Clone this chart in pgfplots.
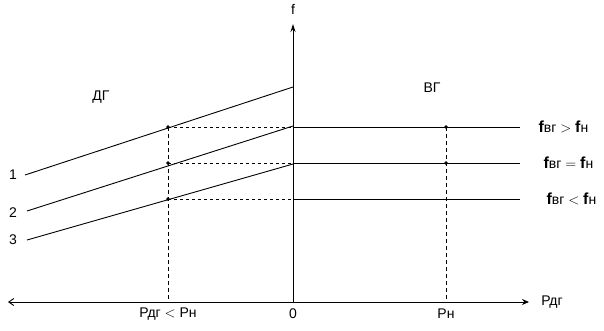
\documentclass[border=0pt]{standalone}
\usepackage{pgfplots}
\pgfplotsset{compat=1.18}
\usepackage{fontspec}
\setmainfont{Liberation Sans}
\usetikzlibrary{arrows.meta}
\begin{document}
\begin{tikzpicture}
\begin{axis}[
  scale only axis, width=604pt, height=330pt,
  xmin=0, xmax=604, ymin=0, ymax=330, y dir=reverse,
  hide axis, clip=false,
  font=\fontsize{14}{16}\selectfont,
]
% axes
\addplot [black, no marks, line width=0.9pt, {Straight Barb[length=5pt,width=7pt]}-{Stealth[length=7pt,width=6pt]}] coordinates {(8,302) (529,302)};
\addplot [black, no marks, line width=0.9pt, -{Stealth[length=8pt,width=5pt]}] coordinates {(293,302) (293,24)};
% generator lines
\addplot [black, no marks, line width=0.9pt] coordinates {(25,175) (293,87)};
\addplot [black, no marks, line width=0.9pt] coordinates {(27,211) (293,126)};
\addplot [black, no marks, line width=0.9pt] coordinates {(27,240) (293,164)};
% right horizontal lines
\addplot [black, no marks, line width=0.9pt] coordinates {(293,127) (520,127)};
\addplot [black, no marks, line width=0.9pt] coordinates {(293,163) (520,163)};
\addplot [black, no marks, line width=0.9pt] coordinates {(293,199) (520,199)};
% dashed helpers
\addplot [black, no marks, dash pattern=on 3pt off 3pt, line width=0.7pt] coordinates {(168,127) (293,127)};
\addplot [black, no marks, dash pattern=on 3pt off 3pt, line width=0.7pt] coordinates {(168,163) (293,163)};
\addplot [black, no marks, dash pattern=on 3pt off 3pt, line width=0.7pt] coordinates {(168,199) (293,199)};
\addplot [black, no marks, dash pattern=on 4pt off 3pt, line width=0.7pt] coordinates {(168,127) (168,302)};
\addplot [black, no marks, dash pattern=on 4pt off 3pt, line width=0.7pt] coordinates {(446,127) (446,302)};
% dots
\addplot [black, only marks, mark=*, mark size=1.5pt] coordinates {(168,127) (168,163) (168,199) (446,127) (446,163)};
% labels
\node at (axis cs:13,175) {1};
\node at (axis cs:13,213) {2};
\node at (axis cs:13,240) {3};
\node at (axis cs:101,97) {ДГ};
\node at (axis cs:432,88) {ВГ};
\node at (axis cs:293,9) {f};
\node at (axis cs:552,302) {Рдг};
\node at (axis cs:168,314) {Рдг $<$ Рн};
\node at (axis cs:293,314) {0};
\node at (axis cs:446,314) {Рн};
\node[anchor=west] at (axis cs:535,127) {{\fontsize{16}{16}\selectfont\textbf{f}}вг $>$ {\fontsize{16}{16}\selectfont\textbf{f}}н};
\node[anchor=west] at (axis cs:540,163) {{\fontsize{16}{16}\selectfont\textbf{f}}вг $=$ {\fontsize{16}{16}\selectfont\textbf{f}}н};
\node[anchor=west] at (axis cs:543,199) {{\fontsize{16}{16}\selectfont\textbf{f}}вг $<$ {\fontsize{16}{16}\selectfont\textbf{f}}н};
\end{axis}
\pgfresetboundingbox
\useasboundingbox (0,0) rectangle (604pt,330pt);
\end{tikzpicture}
\end{document}
